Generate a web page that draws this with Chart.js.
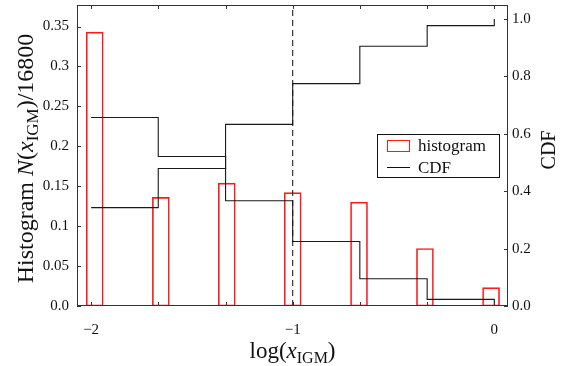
<!DOCTYPE html>
<html>
<head>
<meta charset="utf-8">
<script src="https://cdn.jsdelivr.net/npm/chart.js@4/dist/chart.umd.min.js"></script>
<style>
  html, body { margin: 0; padding: 0; background: #fff; }
  #wrap { width: 564px; height: 366px; }
</style>
</head>
<body>
<div id="wrap"><canvas id="histChart" width="564" height="366"></canvas></div>
<script>
// histogram of log(x_IGM), bar centres and normalised counts
const binCenters = [-1.982, -1.654, -1.327, -1.0, -0.671, -0.344, -0.016];
const histValues = [0.343, 0.136, 0.154, 0.142, 0.130, 0.072, 0.023];

// step curves on the right axis, sampled at the bin edges
const binEdges = [-2.0, -1.667, -1.333, -1.0, -0.667, -0.333, 0.0];
const cdfValues = [0.343, 0.479, 0.633, 0.775, 0.905, 0.977, 1.0];
const ccdfValues = [0.657, 0.521, 0.367, 0.225, 0.095, 0.023, 0.0];

// vertical marker
const markerX = -1.0;

// ticks
const xTicks = [-2.0, -1.667, -1.333, -1.0, -0.667, -0.333, 0.0];
const xTickLabels = ['\u22122', '', '', '\u22121', '', '', '0'];
const leftTicks = [0, 0.05, 0.1, 0.15, 0.2, 0.25, 0.3, 0.35];
const leftTickLabels = ['0.0', '0.05', '0.1', '0.15', '0.2', '0.25', '0.3', '0.35'];
const rightTicks = [0, 0.2, 0.4, 0.6, 0.8, 1.0];
const rightTickLabels = ['0.0', '0.2', '0.4', '0.6', '0.8', '1.0'];
const legendLabels = ['histogram', 'CDF'];

const SERIF = '"Liberation Serif", "Times New Roman", serif';
Chart.defaults.font.family = SERIF;
Chart.defaults.color = '#111';

const xMin = -2.07, xMax = 0.068;
const yMax = 0.377, y1Max = 1.049;

function pts(xs, ys) {
    return xs.map((x, i) => ({ x: x, y: ys[i] }));
}

// no extra room for half tick labels at the ends of the axes
function noEdgePadding(s) {
    s.paddingTop = 0;
    s.paddingBottom = 0;
    s.paddingLeft = 0;
    s.paddingRight = 0;
}

// draw a label made of pieces (italic / subscript) centred on 0
function drawPieces(ctx, pieces, size, baseline) {
    const fontOf = p => (p.italic ? 'italic ' : '') + (p.sub ? Math.round(size * 0.7) : size) + 'px ' + SERIF;
    let total = 0;
    pieces.forEach(p => { ctx.font = fontOf(p); total += ctx.measureText(p.t).width; });
    let x = -total / 2;
    ctx.textAlign = 'left';
    ctx.textBaseline = 'alphabetic';
    pieces.forEach(p => {
        ctx.font = fontOf(p);
        ctx.fillText(p.t, x, baseline + (p.sub ? size * 0.22 : 0));
        x += ctx.measureText(p.t).width;
    });
}

const decorations = {
    id: 'decorations',
    afterDraw(chart) {
        const ctx = chart.ctx;
        const a = chart.chartArea;
        const sx = chart.scales.x, sy = chart.scales.y, sy1 = chart.scales.y1;
        const tl = 4;
        ctx.save();

        // frame
        ctx.strokeStyle = '#333';
        ctx.lineWidth = 1;
        ctx.strokeRect(a.left + 0.5, a.top + 0.5, a.right - a.left - 1, a.bottom - a.top - 1);

        // inward ticks
        ctx.beginPath();
        xTicks.forEach(v => {
            const px = Math.round(sx.getPixelForValue(v)) + 0.5;
            ctx.moveTo(px, a.bottom); ctx.lineTo(px, a.bottom - tl);
            ctx.moveTo(px, a.top); ctx.lineTo(px, a.top + tl);
        });
        leftTicks.forEach(v => {
            const py = Math.round(sy.getPixelForValue(v)) + 0.5;
            ctx.moveTo(a.left, py); ctx.lineTo(a.left + tl, py);
        });
        rightTicks.forEach(v => {
            const py = Math.round(sy1.getPixelForValue(v)) + 0.5;
            ctx.moveTo(a.right, py); ctx.lineTo(a.right - tl, py);
        });
        ctx.stroke();

        ctx.fillStyle = '#111';
        // x title
        ctx.save();
        ctx.translate((a.left + a.right) / 2, 0);
        drawPieces(ctx, [
            { t: 'log(' }, { t: 'x', italic: true }, { t: 'IGM', sub: true }, { t: ')' }
        ], 23, 358);
        ctx.restore();

        // left title
        ctx.save();
        ctx.translate(0, (a.top + a.bottom) / 2 + 3);
        ctx.rotate(-Math.PI / 2);
        drawPieces(ctx, [
            { t: 'Histogram ' }, { t: 'N', italic: true }, { t: '(' }, { t: 'x', italic: true },
            { t: 'IGM', sub: true }, { t: ')/16800' }
        ], 24, 33);
        ctx.restore();

        // right title
        ctx.save();
        ctx.translate(0, 150);
        ctx.rotate(-Math.PI / 2);
        drawPieces(ctx, [{ t: 'CDF' }], 20, 555);
        ctx.restore();

        // legend
        const lx = 377, ly = 134, lw = 122, lh = 43;
        ctx.fillStyle = '#fff';
        ctx.fillRect(lx, ly, lw, lh);
        ctx.strokeStyle = '#111';
        ctx.lineWidth = 1;
        ctx.strokeRect(lx + 0.5, ly + 0.5, lw, lh);
        ctx.strokeStyle = '#ff1a1a';
        ctx.strokeRect(387.5, 140.5, 22, 11);
        ctx.strokeStyle = '#111';
        ctx.beginPath();
        ctx.moveTo(387, 167.5); ctx.lineTo(410, 167.5);
        ctx.stroke();
        ctx.fillStyle = '#111';
        ctx.font = '17px ' + SERIF;
        ctx.textAlign = 'left';
        ctx.textBaseline = 'alphabetic';
        ctx.fillText(legendLabels[0], 418, 151);
        ctx.fillText(legendLabels[1], 418, 173);

        ctx.restore();
    }
};

new Chart(document.getElementById('histChart'), {
    type: 'bar',
    data: {
        datasets: [
            {
                type: 'bar',
                label: legendLabels[0],
                data: pts(binCenters, histValues),
                backgroundColor: 'rgba(0,0,0,0)',
                borderColor: '#ff1a1a',
                borderWidth: 1,
                borderSkipped: false,
                barThickness: 17,
                yAxisID: 'y',
                order: 3
            },
            {
                type: 'line',
                label: legendLabels[1],
                data: pts(binEdges, cdfValues),
                borderColor: '#1a1a1a',
                borderWidth: 1.1,
                stepped: 'before',
                pointRadius: 0,
                fill: false,
                yAxisID: 'y1',
                order: 1
            },
            {
                type: 'line',
                label: '1 - CDF',
                data: pts(binEdges, ccdfValues),
                borderColor: '#1a1a1a',
                borderWidth: 1.1,
                stepped: 'before',
                pointRadius: 0,
                fill: false,
                yAxisID: 'y1',
                order: 1
            },
            {
                type: 'line',
                label: 'marker',
                data: [{ x: markerX, y: 0 }, { x: markerX, y: yMax }],
                borderColor: '#222',
                borderWidth: 1.1,
                borderDash: [6, 4],
                pointRadius: 0,
                fill: false,
                yAxisID: 'y',
                order: 2
            }
        ]
    },
    options: {
        responsive: false,
        animation: false,
        layout: { padding: { top: 5, left: 0, right: 0, bottom: 0 } },
        plugins: {
            legend: { display: false },
            tooltip: { enabled: false }
        },
        scales: {
            x: {
                type: 'linear',
                min: xMin,
                max: xMax,
                offset: false,
                grid: { display: false, drawTicks: false },
                border: { display: false },
                afterBuildTicks: s => { s.ticks = xTicks.map(v => ({ value: v })); },
                afterFit: s => { s.height = 60; noEdgePadding(s); },
                ticks: {
                    autoSkip: false,
                    maxRotation: 0,
                    padding: 15,
                    font: { size: 15 },
                    callback: (v, i) => xTickLabels[i]
                }
            },
            y: {
                position: 'left',
                min: 0,
                max: yMax,
                grid: { display: false, drawTicks: false },
                border: { display: false },
                afterBuildTicks: s => { s.ticks = leftTicks.map(v => ({ value: v })); },
                afterFit: s => { s.width = 77; noEdgePadding(s); },
                ticks: {
                    padding: 8,
                    font: { size: 15 },
                    callback: (v, i) => leftTickLabels[i]
                }
            },
            y1: {
                position: 'right',
                min: 0,
                max: y1Max,
                grid: { display: false, drawTicks: false },
                border: { display: false },
                afterBuildTicks: s => { s.ticks = rightTicks.map(v => ({ value: v })); },
                afterFit: s => { s.width = 56; noEdgePadding(s); },
                ticks: {
                    padding: 4,
                    font: { size: 15 },
                    callback: (v, i) => rightTickLabels[i]
                }
            }
        }
    },
    plugins: [decorations]
});
</script>
</body>
</html>
